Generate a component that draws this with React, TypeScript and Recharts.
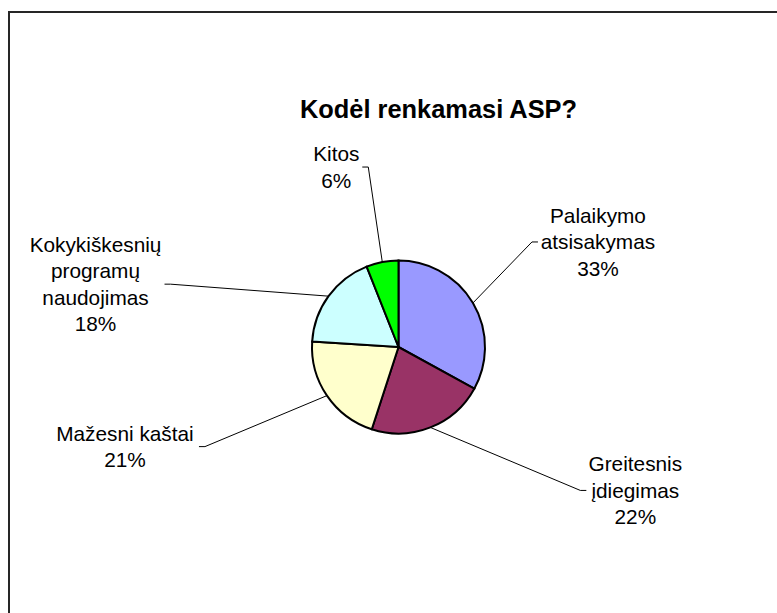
import React from 'react';
import { PieChart, Pie, Cell } from 'recharts';

const categories = [
  'Palaikymo atsisakymas',
  'Greitesnis įdiegimas',
  'Mažesni kaštai',
  'Kokykiškesnių programų naudojimas',
  'Kitos',
];
const labelLines = [
  ['Palaikymo', 'atsisakymas'],
  ['Greitesnis', 'įdiegimas'],
  ['Mažesni kaštai'],
  ['Kokykiškesnių', 'programų', 'naudojimas'],
  ['Kitos'],
];
const values = [33, 22, 21, 18, 6];
const colors = ['#9999FF', '#993366', '#FFFFCC', '#CCFFFF', '#00FF00'];
const title = 'Kodėl renkamasi ASP?';

// label placement (style): leader-line end offset from slice edge, text centre offset, tick direction
const leaderOffsets: [number, number][] = [
  [59, -61],
  [150, 63],
  [-122, 51],
  [-158, -12],
  [-14, -95],
];
const textOffsets = [66, 55, -80, -75, -32];
const tickDir = [1, 1, -1, -1, -1];

const data = categories.map((name, i) => ({ name, value: values[i], idx: i }));

const FONT = '"Liberation Sans", Arial, sans-serif';
const RADIAN = Math.PI / 180;

const renderLabel = (props: any) => {
  const { cx, cy, midAngle, outerRadius, index, value } = props;
  const ex = cx + outerRadius * Math.cos(-midAngle * RADIAN);
  const ey = cy + outerRadius * Math.sin(-midAngle * RADIAN);
  const [dx, dy] = leaderOffsets[index];
  const lx = ex + dx;
  const ly = ey + dy;
  const tx = lx + tickDir[index] * 6;
  const lines = [...labelLines[index], `${value}%`];
  const lh = 26.5;
  const startY = ly - ((lines.length - 1) * lh) / 2;
  const textX = lx + textOffsets[index];
  return (
    <g key={`lbl-${index}`}>
      <path d={`M${ex},${ey}L${lx},${ly}L${tx},${ly}`} stroke="#000" strokeWidth={1} fill="none" />
      <text
        x={textX}
        y={startY}
        textAnchor="middle"
        fontFamily={FONT}
        fontSize={20.8}
        fill="#000"
      >
        {lines.map((t, i) => (
          <tspan key={i} x={textX} y={startY + i * lh} dominantBaseline="central">
            {t}
          </tspan>
        ))}
      </text>
    </g>
  );
};

export default function App() {
  return (
    <div
      style={{
        position: 'fixed',
        left: 0,
        top: 0,
        width: 777,
        height: 613,
        overflow: 'hidden',
        background: '#fff',
      }}
    >
      <div
        style={{
          position: 'absolute',
          left: 8,
          top: 11,
          width: 1000,
          height: 900,
          borderLeft: '2px solid #262626',
          borderTop: '2px solid #262626',
          boxSizing: 'border-box',
        }}
      />
      <div
        style={{
          position: 'absolute',
          left: 0,
          top: 97.3,
          width: 877,
          textAlign: 'center',
          fontFamily: FONT,
          fontWeight: 'bold',
          fontSize: 25.4,
          lineHeight: '25.4px',
          color: '#000',
          whiteSpace: 'nowrap',
        }}
      >
        {title}
      </div>
      <div style={{ position: 'absolute', left: 0, top: 0 }}>
        <PieChart width={777} height={613} margin={{ top: 0, right: 0, bottom: 0, left: 0 }}>
          <Pie
            data={data}
            dataKey="value"
            nameKey="name"
            cx={398.5}
            cy={347}
            outerRadius={86.5}
            startAngle={90}
            endAngle={-270}
            stroke="#000"
            strokeWidth={2}
            label={renderLabel}
            labelLine={false}
            isAnimationActive={false}
          >
            {data.map((d, i) => (
              <Cell key={i} fill={colors[i]} stroke="#000" strokeWidth={2} />
            ))}
          </Pie>
        </PieChart>
      </div>
    </div>
  );
}
